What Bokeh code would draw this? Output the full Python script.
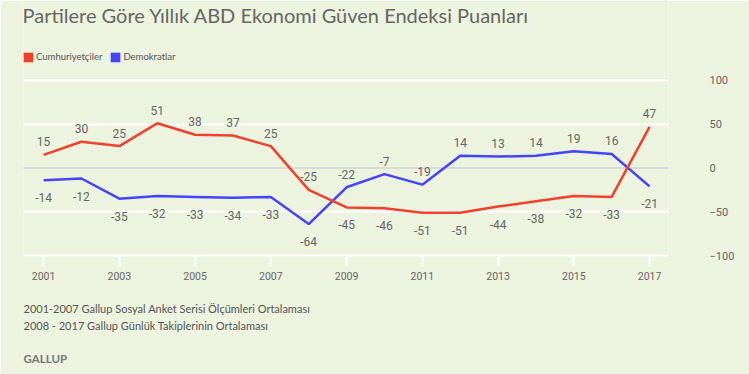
from bokeh.plotting import figure
from bokeh.models import (ColumnDataSource, LabelSet, Label, Legend, LegendItem,
                          Span, FixedTicker, Range1d, Title)
from bokeh.core.properties import value
from bokeh.embed import file_html
from bokeh.resources import INLINE

# ---- data ----
years = list(range(2001, 2018))
republicans = [15, 30, 25, 51, 38, 37, 25, -25, -45, -46, -51, -51, -44, -38, -32, -33, 47]
democrats = [-14, -12, -35, -32, -33, -34, -33, -64, -22, -7, -19, 14, 13, 14, 19, 16, -21]
series_names = ["Cumhuriyetçiler", "Demokratlar"]
x_ticks = [2001, 2003, 2005, 2007, 2009, 2011, 2013, 2015, 2017]
y_ticks = [-100, -50, 0, 50, 100]
title_text = "Partilere Göre Yıllık ABD Ekonomi Güven Endeksi Puanları"
notes = ["2001-2007 Gallup Sosyal Anket Serisi Ölçümleri Ortalaması",
         "2008 - 2017 Gallup Günlük Takiplerinin Ortalaması"]
source_text = "GALLUP"

# ---- style ----
BG = "#ecf3df"
RED = "#f0412f"
BLUE = "#4444ff"
TXT = "#666666"

# the frame reaches up to the top of the canvas so that the title and the legend
# (drawn as annotations) sit inside it; the value scale is 202 units per 177 px
p = figure(frame_width=645, frame_height=256,
           x_range=Range1d(2000.47, 2017.5), y_range=Range1d(-101, -101 + 256 * 202 / 177),
           output_backend="svg", toolbar_location=None, y_axis_location="right",
           min_border_left=23, min_border_right=81, min_border_top=0, min_border_bottom=118,
           background_fill_color=BG, border_fill_color=BG, outline_line_color=None)

# grid
p.xgrid.grid_line_color = None
p.ygrid.ticker = FixedTicker(ticks=[t for t in y_ticks if t != 0])
p.ygrid.grid_line_color = "white"
p.ygrid.grid_line_width = 2
p.add_layout(Span(location=0, dimension="width", line_color="#dadada",
                  line_width=2, level="underlay"))

# axes
xa = p.xaxis[0]
xa.ticker = FixedTicker(ticks=x_ticks)
xa.axis_line_color = None
xa.major_tick_line_color = "white"
xa.major_tick_line_width = 2
xa.major_tick_in = 0
xa.major_tick_out = 10
xa.minor_tick_line_color = None
xa.major_label_text_color = TXT
xa.major_label_text_font = "Roboto"
xa.major_label_text_font_size = "10.5px"
xa.major_label_standoff = 5

ya = p.yaxis[0]
ya.ticker = FixedTicker(ticks=y_ticks)
ya.axis_line_color = None
ya.major_tick_line_color = None
ya.minor_tick_line_color = None
ya.major_label_text_color = TXT
ya.major_label_text_font = "Roboto"
ya.major_label_text_font_size = "11px"
ya.major_label_text_align = "right"
ya.major_label_standoff = 35

# lines
p.line(years, democrats, line_color=BLUE, line_width=2.5)
p.line(years, republicans, line_color=RED, line_width=2.5)

# data labels: higher series labelled above, lower below
xs, ys, texts, dys = [], [], [], []
for yr, r, d in zip(years, republicans, democrats):
    for v, other in ((r, d), (d, r)):
        xs.append(yr)
        ys.append(v)
        texts.append(str(v))
        dys.append(13 if v >= other else -17.5)
lab_src = ColumnDataSource(dict(x=xs, y=ys, text=texts, dy=dys))
p.add_layout(LabelSet(x="x", y="y", text="text", y_offset="dy", source=lab_src,
                      text_align="center", text_baseline="middle",
                      text_font=value("Roboto"), text_font_size="12px",
                      text_color=TXT))

# legend (square swatches; the swatch renderers hold no drawable point)
nan = float("nan")
r_sw = p.quad(left=[nan], right=[nan], top=[nan], bottom=[nan], fill_color=RED, line_color=None)
b_sw = p.quad(left=[nan], right=[nan], top=[nan], bottom=[nan], fill_color=BLUE, line_color=None)
legend = Legend(items=[LegendItem(label=series_names[0], renderers=[r_sw]),
                       LegendItem(label=series_names[1], renderers=[b_sw])],
                location=(-1, 193.5), orientation="horizontal",
                glyph_width=12, glyph_height=12, label_height=12,
                label_standoff=2, spacing=7, padding=0, margin=0,
                label_text_font="Lato", label_text_font_size="9.5px",
                label_text_color="#555555", label_text_baseline="middle",
                border_line_color=None, background_fill_alpha=0)
p.add_layout(legend)

# title
p.add_layout(Label(x=-1, y=242, x_units="screen", y_units="screen", text=title_text,
                   text_font="Lato", text_font_size="20px", text_color=TXT,
                   text_baseline="middle"))

# notes below the axis
p.add_layout(Title(text="\n".join(notes), align="left", offset=0, standoff=34,
                   text_font="Lato", text_font_size="11px", text_line_height=1.36,
                   text_color="#555555", text_font_style="normal"), "below")
p.add_layout(Title(text=source_text, align="left", offset=0, standoff=0,
                   text_font="Lato", text_font_size="11.5px",
                   text_color="#777777", text_font_style="bold"), "below")

open("out.html", "w").write(file_html(p, INLINE))
